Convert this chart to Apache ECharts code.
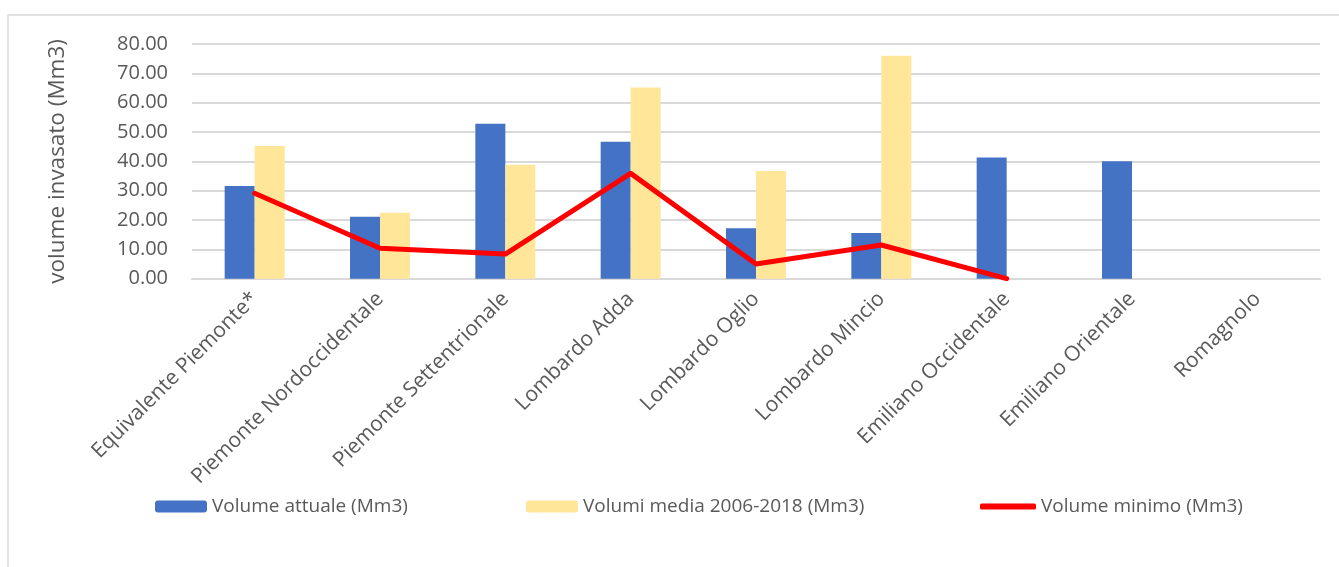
<!DOCTYPE html>
<html>
<head>
<meta charset="utf-8">
<script src="https://cdn.jsdelivr.net/npm/echarts@6/dist/echarts.min.js"></script>
<style>
  html, body { margin: 0; padding: 0; background: #fff; }
  #chart { width: 1339px; height: 567px; }
</style>
</head>
<body>
<div id="chart"></div>
<script>
// Reservoir volumes by district (Mm3)
const categories = [
  'Equivalente Piemonte*', 'Piemonte Nordoccidentale', 'Piemonte Settentrionale',
  'Lombardo Adda', 'Lombardo Oglio', 'Lombardo Mincio',
  'Emiliano Occidentale', 'Emiliano Orientale', 'Romagnolo'
];
const volumeAttuale = [31.6, 21.1, 52.8, 46.7, 17.2, 15.6, 41.3, 40.0, null];
const volumiMedia = [45.2, 22.5, 38.8, 65.2, 36.7, 76.0, null, null, null];
const volumeMinimo = [29.1, 10.4, 8.4, 35.9, 5.0, 11.5, 0.0, null, null];
const yTicks = { min: 0, max: 80, interval: 10 };

const seriesNames = ['Volume attuale (Mm3)', 'Volumi media 2006-2018 (Mm3)', 'Volume minimo (Mm3)'];
const textColor = '#595959';
const gridColor = '#d9d9d9';
const font = 'Open Sans';

const chart = echarts.init(document.getElementById('chart'), null, { renderer: 'canvas' });

const legendBase = {
  top: 492,
  itemGap: 0,
  textStyle: { color: textColor, fontSize: 19, fontFamily: font },
  selectedMode: false
};

chart.setOption({
  animation: false,
  backgroundColor: '#ffffff',
  graphic: [{
    type: 'rect',
    shape: { x: 8, y: 15, width: 1345, height: 560 },
    style: { fill: 'none', stroke: gridColor, lineWidth: 1.5 },
    silent: true, z: -10
  }],
  grid: { left: 192, right: 19, top: 44, bottom: 288.3, containLabel: false },
  legend: [
    Object.assign({}, legendBase, { left: 150, data: [seriesNames[0]], itemWidth: 52, itemHeight: 12 }),
    Object.assign({}, legendBase, { left: 521, data: [seriesNames[1]], itemWidth: 52, itemHeight: 12 }),
    Object.assign({}, legendBase, { left: 975, data: [{ name: seriesNames[2], icon: 'roundRect' }], itemWidth: 56, itemHeight: 6 })
  ],
  xAxis: {
    type: 'category',
    data: categories,
    axisLine: { show: true, lineStyle: { color: gridColor, width: 2 } },
    axisTick: { show: false },
    axisLabel: {
      interval: 0, rotate: 45, margin: 17,
      color: textColor, fontSize: 21, fontFamily: font
    }
  },
  yAxis: {
    type: 'value',
    min: yTicks.min, max: yTicks.max, interval: yTicks.interval,
    name: 'volume invasato (Mm3)',
    nameLocation: 'middle',
    nameGap: 123,
    nameTextStyle: { color: textColor, fontSize: 22.5, fontFamily: font },
    axisLine: { show: false },
    axisTick: { show: false },
    axisLabel: {
      margin: 24, color: textColor, fontSize: 20, fontFamily: font,
      formatter: v => v.toFixed(2)
    },
    splitLine: { lineStyle: { color: gridColor, width: 2 } }
  },
  series: [
    {
      name: seriesNames[0], type: 'bar', data: volumeAttuale,
      barWidth: 30, barGap: '0%',
      itemStyle: { color: '#4472C4' }
    },
    {
      name: seriesNames[1], type: 'bar', data: volumiMedia,
      barWidth: 30, barGap: '0%',
      itemStyle: { color: '#FFE699' }
    },
    {
      name: seriesNames[2], type: 'line', data: volumeMinimo,
      showSymbol: false, symbol: 'none', z: 5,
      connectNulls: false,
      lineStyle: { color: '#FF0000', width: 5, cap: 'round', join: 'round' },
      itemStyle: { color: '#FF0000' }
    }
  ]
});
</script>
</body>
</html>
